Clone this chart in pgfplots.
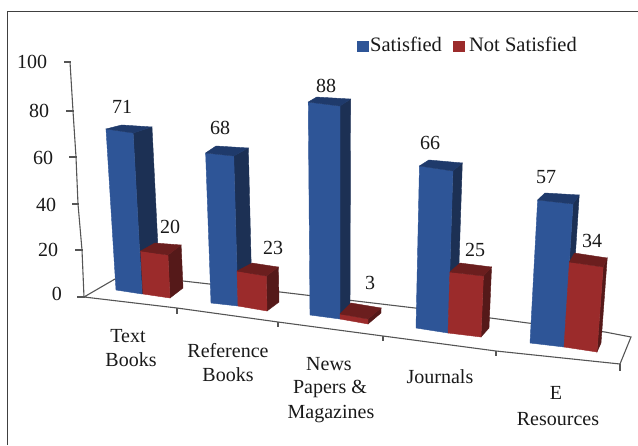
\documentclass[border=0pt]{standalone}
\usepackage{fontspec}
\setmainfont{Liberation Serif}
\usepackage{pgfplots}
\pgfplotsset{compat=1.18}

\definecolor{blueFront}{HTML}{2E5597}
\definecolor{blueSide}{HTML}{1C3054}
\definecolor{blueTop}{HTML}{1F3A6B}
\definecolor{redFront}{HTML}{9B2B2B}
\definecolor{redSide}{HTML}{551919}
\definecolor{redTop}{HTML}{6B1E1E}
\definecolor{axisGrey}{HTML}{555555}

% Vanishing point of the bars' vertical edges
\def\vpx{340}
\def\vpy{3900}

% Raise a floor point by a height, leaning away from the vanishing point
\newcommand\lift[5]{% x, y, height, out-x, out-y
  \pgfmathsetmacro#4{#1+(#1-\vpx)/(\vpy-#2)*(#3)}%
  \pgfmathsetmacro#5{#2-(#3)}}

% Floor corners of the next bar: front-left, front-right, back-right, back-left
\newcommand\floorat[8]{%
  \def\ax{#1}\def\ay{#2}\def\bx{#3}\def\by{#4}%
  \def\cx{#5}\def\cy{#6}\def\dx{#7}\def\dy{#8}}

% #1 colour stem, #2 value, #3 drawn length of one unit
\newcommand\barbox[3]{%
  \pgfmathsetmacro\hh{#2*#3}%
  \lift{\ax}{\ay}{\hh}\tax\tay
  \lift{\bx}{\by}{\hh}\tbx\tby
  \lift{\cx}{\cy}{\hh}\tcx\tcy
  \lift{\dx}{\dy}{\hh}\tdx\tdy
  \addplot[fill=#1Side,draw=#1Side,line width=0.4pt] coordinates
    {(\bx,\by) (\cx,\cy) (\tcx,\tcy) (\tbx,\tby)} -- cycle;
  \addplot[fill=#1Front,draw=#1Front,line width=0.4pt] coordinates
    {(\ax,\ay) (\bx,\by) (\tbx,\tby) (\tax,\tay)} -- cycle;
  \addplot[fill=#1Top,draw=#1Top,line width=0.4pt] coordinates
    {(\tax,\tay) (\tbx,\tby) (\tcx,\tcy) (\tdx,\tdy)} -- cycle;
}

\begin{document}
\begin{tikzpicture}
\useasboundingbox (0,0) rectangle (638pt,445pt);
\begin{axis}[
  at={(0,0)}, anchor=south west,
  scale only axis, width=638pt, height=445pt,
  xmin=0, xmax=638, ymin=0, ymax=445, y dir=reverse,
  hide axis, clip=false,
  every axis plot/.append style={mark=none},
]
% Outer frame
\addplot[black!75,line width=1pt] coordinates {(7,445) (7,11) (638,11)};

% Value axis and its ticks
\addplot[axisGrey,line width=1.1pt] coordinates {(70,62) (73,111) (76,157) (78,204) (82,250) (84,297)};
\addplot[axisGrey,line width=1.1pt] coordinates {(64,62) (71,62)};
\addplot[axisGrey,line width=1.1pt] coordinates {(66,111) (74,111)};
\addplot[axisGrey,line width=1.1pt] coordinates {(69,157) (77,157)};
\addplot[axisGrey,line width=1.1pt] coordinates {(72,204) (79,204)};
\addplot[axisGrey,line width=1.1pt] coordinates {(75,250) (83,250)};
\addplot[axisGrey,line width=1.1pt] coordinates {(77,297) (85,297)};

% Floor outline and category ticks
\addplot[axisGrey,line width=1.1pt] coordinates {(84,297) (115,279) (183,281) (280,292) (415,308) (528,323) (605,332) (631,337) (620,364) (496,351) (383,336) (278,322) (177,308) (84,297)};
\addplot[axisGrey,line width=1.1pt] coordinates {(177,308) (177,314)};
\addplot[axisGrey,line width=1.1pt] coordinates {(278,322) (278,327)};
\addplot[axisGrey,line width=1.1pt] coordinates {(383,336) (383,341)};
\addplot[axisGrey,line width=1.1pt] coordinates {(496,351) (496,356)};
\addplot[axisGrey,line width=1.1pt] coordinates {(620,364) (620,371)};

% Text Books
\floorat{116}{290}{142}{294}{160}{288}{131}{286}\barbox{blue}{71}{2.268}
\floorat{143}{294}{170}{298}{183}{288}{157}{286}\barbox{red}{20}{2.15}
% Reference Books
\floorat{211}{303}{238}{306}{252}{298}{221}{296}\barbox{blue}{68}{2.206}
\floorat{238}{306}{267}{311}{279}{302}{253}{298}\barbox{red}{23}{1.52}
% News Papers & Magazines
\floorat{310}{315}{340}{319}{350}{312}{318}{310}\barbox{blue}{88}{2.42}
\floorat{340}{319}{368}{324}{381}{313}{351}{308}\barbox{red}{3}{1.67}
% Journals
\floorat{416}{328}{448}{333}{457}{325}{425}{322}\barbox{blue}{66}{2.455}
\floorat{448}{333}{481}{337}{489}{328}{458}{324}\barbox{red}{25}{2.44}
% E Resources
\floorat{530}{343}{564}{347}{570}{338}{537}{336}\barbox{blue}{57}{2.509}
\floorat{564}{347}{597}{352}{601}{343}{569}{338}\barbox{red}{34}{2.5}

% Legend swatches
\addplot[fill=blueFront,draw=none] coordinates {(357,41) (369,41) (369,52) (357,52)} -- cycle;
\addplot[fill=redFront,draw=none] coordinates {(453,41) (465,41) (465,52) (453,52)} -- cycle;

\begin{scope}[every node/.style={font=\fontsize{20}{20}\selectfont,inner sep=0pt,text=black!90}]
% Value axis numbers
\node at (axis cs:32,62) {100};
\node at (axis cs:39,111) {80};
\node at (axis cs:43,158) {60};
\node at (axis cs:46,205) {40};
\node at (axis cs:48,250) {20};
\node at (axis cs:57,294) {0};
% Bar values
\node at (axis cs:122,107) {71};
\node at (axis cs:220,128) {68};
\node at (axis cs:326,86) {88};
\node at (axis cs:430,143) {66};
\node at (axis cs:546,177) {57};
\node at (axis cs:170,227) {20};
\node at (axis cs:273,248) {23};
\node at (axis cs:370,283) {3};
\node at (axis cs:475,250) {25};
\node at (axis cs:592,241) {34};
% Legend
\node[font=\fontsize{20.5}{20.5}\selectfont] at (axis cs:406,44) {Satisfied};
\node[font=\fontsize{20.5}{20.5}\selectfont] at (axis cs:523,44) {Not Satisfied};
% Categories
\node at (axis cs:128,336) {Text};
\node at (axis cs:131,360) {Books};
\node at (axis cs:228,351) {Reference};
\node at (axis cs:228,375) {Books};
\node at (axis cs:329,364) {News};
\node at (axis cs:330,389) {Papers \&};
\node at (axis cs:331,414) {Magazines};
\node at (axis cs:440,377) {Journals};
\node at (axis cs:556,393) {E};
\node at (axis cs:558,419) {Resources};
\end{scope}
\end{axis}
\end{tikzpicture}
\end{document}
